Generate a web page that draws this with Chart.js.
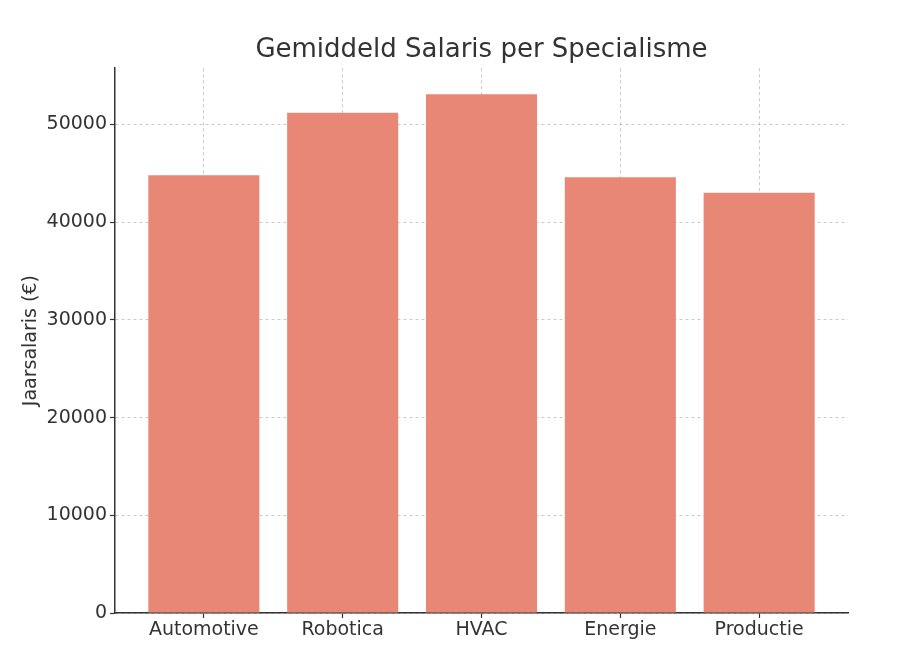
<!DOCTYPE html>
<html>
<head>
<meta charset="utf-8">
<script src="https://cdn.jsdelivr.net/npm/chart.js@4"></script>
<style>
html,body{margin:0;padding:0;background:#fff;}
#wrap{width:914px;height:660px;position:relative;}
</style>
</head>
<body>
<div id="wrap"><canvas id="c" width="914" height="660"></canvas></div>
<script>
const categories = ["Automotive", "Robotica", "HVAC", "Energie", "Productie"];
const salaries = [44800, 51200, 53100, 44600, 43000];
const yTicks = [0, 10000, 20000, 30000, 40000, 50000];
const titleText = "Gemiddeld Salaris per Specialisme";
const yLabel = "Jaarsalaris (€)";

const points = categories.map((c, i) => ({x: i, y: salaries[i]}));
const txt = '#333333';
const font = 'DejaVu Sans';
const gridCol = 'rgba(150,150,150,0.5)';

new Chart(document.getElementById('c'), {
  type: 'bar',
  data: {
    datasets: [{
      data: points,
      backgroundColor: 'rgb(232,135,118)',
      borderWidth: 0,
      barPercentage: 0.8,
      categoryPercentage: 1.0
    }]
  },
  options: {
    responsive: false,
    animation: false,
    devicePixelRatio: 1,
    layout: {padding: {left: 20, right: 66, top: 0, bottom: 0}},
    plugins: {
      legend: {display: false},
      tooltip: {enabled: false},
      title: {
        display: true,
        text: titleText,
        fullSize: false,
        color: txt,
        font: {family: font, size: 26, weight: 'normal'},
        padding: {top: 35, bottom: 2}
      }
    },
    scales: {
      x: {
        type: 'linear',
        z: 1,
        min: -0.64,
        max: categories.length - 1 + 0.64,
        offset: false,
        afterFit: s => { s.height = 47; },
        afterBuildTicks: s => { s.ticks = categories.map((c, i) => ({value: i})); },
        ticks: {
          stepSize: 1,
          includeBounds: false,
          autoSkip: false,
          maxRotation: 0,
          color: txt,
          padding: 1,
          font: {family: font, size: 19},
          callback: v => categories[v]
        },
        grid: {
          offset: false,
          color: gridCol,
          lineWidth: 1,
          tickColor: '#333',
          tickLength: 5,
          tickWidth: 1.2
        },
        border: {display: true, color: '#333', width: 1.5, dash: [3, 3]}
      },
      y: {
        z: 1,
        min: 0,
        max: 55755,
        afterFit: s => { s.width = 95; },
        afterBuildTicks: s => { s.ticks = yTicks.map(v => ({value: v})); },
        ticks: {
          color: txt,
          padding: 3,
          font: {family: font, size: 19},
          callback: v => String(v)
        },
        title: {
          display: true,
          text: yLabel,
          color: txt,
          font: {family: font, size: 19},
          padding: {top: 0, bottom: 2}
        },
        grid: {
          color: gridCol,
          lineWidth: 1,
          tickColor: '#333',
          tickLength: 5,
          tickWidth: 1.2
        },
        border: {display: true, color: '#333', width: 1.5, dash: [3, 3]}
      }
    }
  }
});
</script>
</body>
</html>
